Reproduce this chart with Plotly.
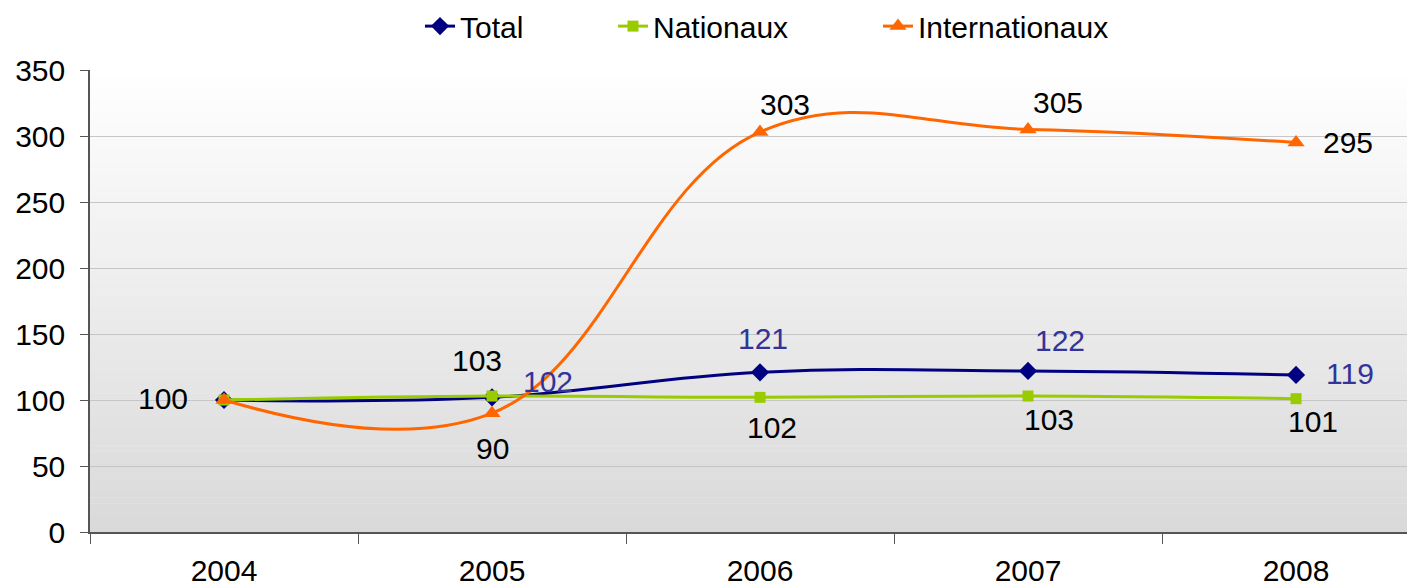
import plotly.graph_objects as go

# ---- data ----
years = ["2004", "2005", "2006", "2007", "2008"]
total = [100, 102, 121, 122, 119]
nationaux = [100, 103, 102, 103, 101]
internationaux = [100, 90, 303, 305, 295]
y_ticks = [0, 50, 100, 150, 200, 250, 300, 350]

# ---- styles ----
FONT = "Liberation Sans, Arial, sans-serif"
FS = 30
C_TOTAL = "#000080"
C_NAT = "#99cc00"
C_INT = "#ff6600"
C_TOTAL_LBL = "#333399"

# label offsets in pixels (xshift, yshift); None = no label
off_total = [None, (56, 16), (3, 34), (32, 30), (54, 1)]
off_nat = [(-61, 2), (-15, 36), (12, -30), (21, -23), (17, -23)]
off_int = [None, (0, -35), (25, 28), (30, 27), (52, 0)]

PLOT_L, PLOT_W = 90, 1317
def px2paper(px):
    return (px - PLOT_L) / PLOT_W

fig = go.Figure()

fig.add_trace(go.Scatter(
    x=years, y=total, name="Total", mode="lines+markers", legend="legend",
    line=dict(color=C_TOTAL, width=3, shape="spline", smoothing=1.15),
    marker=dict(symbol="diamond", size=14, color=C_TOTAL),
))
fig.add_trace(go.Scatter(
    x=years, y=nationaux, name="Nationaux", mode="lines+markers", legend="legend2",
    line=dict(color=C_NAT, width=3, shape="spline", smoothing=1.15),
    marker=dict(symbol="square", size=11, color=C_NAT),
))
fig.add_trace(go.Scatter(
    x=years, y=internationaux, name="Internationaux", mode="lines+markers", legend="legend3",
    line=dict(color=C_INT, width=3, shape="spline", smoothing=1.15),
    marker=dict(symbol="triangle-up", size=15, color=C_INT),
))

annotations = []
for vals, offs, col in [(total, off_total, C_TOTAL_LBL),
                        (nationaux, off_nat, "#000000"),
                        (internationaux, off_int, "#000000")]:
    for i, (v, o) in enumerate(zip(vals, offs)):
        if o is None:
            continue
        annotations.append(dict(
            x=i, y=v, xref="x", yref="y", text=str(v), showarrow=False,
            xshift=o[0], yshift=o[1], xanchor="center", yanchor="middle",
            font=dict(family=FONT, size=FS, color=col),
        ))

# gradient background stripes (white top -> light grey bottom)
shapes = []
n = 80
top_c, bot_c = 255, 217
for i in range(n):
    t = (i + 0.5) / n
    c = round(top_c + (bot_c - top_c) * t)
    shapes.append(dict(
        type="rect", xref="paper", yref="paper",
        x0=0, x1=1, y1=1 - i / n, y0=max(0, 1 - (i + 1) / n - 0.001),
        fillcolor=f"rgb({c},{c},{c})", line=dict(width=0), layer="below",
    ))

leg_common = dict(orientation="h", y=1.095, yanchor="middle", xanchor="left",
                  font=dict(family=FONT, size=FS, color="#000000"),
                  bgcolor="rgba(0,0,0,0)")

fig.update_layout(
    width=1407, height=586,
    margin=dict(l=90, r=0, t=70, b=54, autoexpand=False),
    paper_bgcolor="white", plot_bgcolor="white",
    font=dict(family=FONT, size=FS, color="#000000"),
    showlegend=True,
    legend=dict(x=px2paper(420), **leg_common),
    legend2=dict(x=px2paper(613), **leg_common),
    legend3=dict(x=px2paper(878), **leg_common),
    annotations=annotations,
    shapes=shapes,
)

fig.update_xaxes(
    type="category", categoryorder="array", categoryarray=years,
    range=[-0.5, 4.414], showgrid=False, zeroline=False,
    showline=True, linecolor="#555555", linewidth=1.5,
    ticks="outside", tickson="boundaries", ticklen=10, tickcolor="#555555", tickwidth=1.2,
    tickfont=dict(family=FONT, size=FS, color="#000000"),
    ticklabelstandoff=11, automargin=False,
)
fig.update_yaxes(
    range=[0, 350], tickvals=y_ticks, showgrid=True, gridcolor="#c6c6c6", gridwidth=1.3,
    zeroline=False, showline=True, linecolor="#555555", linewidth=1.5,
    ticks="outside", ticklen=8, tickcolor="#555555", tickwidth=1.2,
    tickfont=dict(family=FONT, size=FS, color="#000000"),
    ticklabelstandoff=9, automargin=False,
)

fig.write_html("out.html", config={"displayModeBar": False},
               post_script="document.body.style.margin='0';")
